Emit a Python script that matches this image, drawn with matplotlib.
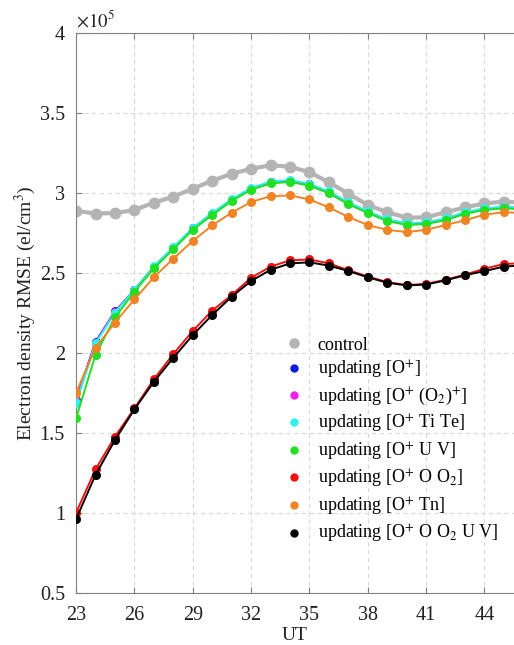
import matplotlib
matplotlib.use('Agg')
import matplotlib.pyplot as plt
import numpy as np

plt.rcParams['font.family'] = ['Liberation Serif', 'DejaVu Serif']
plt.rcParams['mathtext.fontset'] = 'stix'

# hours (UT), values in units of 1e5 el/cm^3
ut = list(range(23, 47))

control = [2.888, 2.872, 2.875, 2.894, 2.94, 2.977, 3.027, 3.077, 3.12, 3.152, 3.173, 3.165,
           3.13, 3.067, 2.996, 2.925, 2.88, 2.846, 2.848, 2.88, 2.91, 2.935, 2.946, 2.94]
upd_o = [1.706, 2.07, 2.26, 2.395, 2.54, 2.658, 2.78, 2.872, 2.958, 3.028, 3.068, 3.077,
         3.055, 3.006, 2.938, 2.882, 2.832, 2.808, 2.813, 2.838, 2.877, 2.901, 2.911, 2.905]
upd_o_o2 = [1.70, 2.065, 2.258, 2.393, 2.538, 2.656, 2.778, 2.871, 2.957, 3.027, 3.067, 3.076,
            3.054, 3.005, 2.937, 2.881, 2.831, 2.807, 2.812, 2.837, 2.876, 2.900, 2.910, 2.904]
upd_ti_te = [1.685, 2.06, 2.252, 2.395, 2.542, 2.66, 2.782, 2.875, 2.962, 3.032, 3.072, 3.081,
             3.058, 3.01, 2.942, 2.886, 2.836, 2.812, 2.817, 2.842, 2.881, 2.905, 2.915, 2.909]
upd_uv = [1.592, 1.988, 2.223, 2.383, 2.529, 2.648, 2.77, 2.862, 2.95, 3.02, 3.06, 3.069,
          3.046, 2.998, 2.93, 2.875, 2.825, 2.80, 2.806, 2.83, 2.87, 2.894, 2.904, 2.898]
upd_o_o2n = [1.002, 1.273, 1.477, 1.654, 1.836, 1.994, 2.138, 2.265, 2.362, 2.47, 2.54, 2.579,
             2.585, 2.56, 2.518, 2.478, 2.443, 2.425, 2.432, 2.458, 2.49, 2.527, 2.556, 2.562]
upd_tn = [1.752, 2.033, 2.19, 2.335, 2.473, 2.59, 2.70, 2.798, 2.877, 2.944, 2.98, 2.985,
          2.96, 2.91, 2.85, 2.80, 2.77, 2.756, 2.77, 2.80, 2.83, 2.865, 2.88, 2.875]
upd_all = [0.962, 1.238, 1.456, 1.648, 1.82, 1.97, 2.112, 2.238, 2.352, 2.45, 2.52, 2.56,
           2.567, 2.546, 2.513, 2.473, 2.44, 2.422, 2.428, 2.454, 2.486, 2.512, 2.54, 2.548]

labels = ['control', 'updating [O$^{+}$]', 'updating [O$^{+}$ (O$_2$)$^{+}$]',
          'updating [O$^{+}$ Ti Te]', 'updating [O$^{+}$ U V]', 'updating [O$^{+}$ O O$_2$]',
          'updating [O$^{+}$ Tn]', 'updating [O$^{+}$ O O$_2$ U V]']
colors = ['#b4b4b4', '#0a1ee0', '#f020f0', '#30f0f0', '#20e020', '#f01010', '#f08424', '#000000']
series = [control, upd_o, upd_o_o2, upd_ti_te, upd_uv, upd_o_o2n, upd_tn, upd_all]

fig = plt.figure(figsize=(5.14, 6.45), dpi=100)
ax = fig.add_axes([0.148, 0.0806, 0.852, 0.8682])

for i, (s, c, lab) in enumerate(zip(series, colors, labels)):
    if i == 0:
        ax.plot(ut, s, '-', color=c, lw=3, marker='o', ms=7.5, zorder=2)
    else:
        ax.plot(ut, s, '-', color=c, lw=1.4, marker='o', ms=5.5, zorder=3)
    ax.plot([], [], 'o', color=c, ms=5 if i else 6.5, label=lab)

ax.set_xlim(23, 45.52)
ax.set_ylim(0.5, 4)
ax.set_xticks([23, 26, 29, 32, 35, 38, 41, 44])
yt = [0.5, 1, 1.5, 2, 2.5, 3, 3.5, 4]
ax.set_yticks(yt)
ax.set_yticklabels(['%g' % v for v in yt])
ax.grid(True, ls=(0, (4, 3)), color='#d8d8d8', lw=0.8)
ax.set_axisbelow(True)
ax.tick_params(direction='in', labelsize=14.5, colors='#808080', labelcolor='#222222',
               top=True, length=4)
ax.tick_params(axis='x', pad=9)
ax.tick_params(axis='y', pad=8)
for sp in ['left', 'bottom', 'top']:
    ax.spines[sp].set_color('#808080')
ax.spines['right'].set_visible(False)

ax.set_xlabel('UT', fontsize=14, color='#222222', labelpad=2)
ax.set_ylabel('Electron density RMSE (el/cm$^3$)', fontsize=14, color='#222222', labelpad=1)
ax.text(0.0, 1.005, r'$\times10^{5}$', transform=ax.transAxes, fontsize=13.5, color='#222222',
        va='bottom', ha='left')

leg = ax.legend(loc='upper left', bbox_to_anchor=(0.44, 0.487), frameon=False, fontsize=13,
                handlelength=1.0, handletextpad=0.8, labelspacing=0.28)

fig.savefig('out.png', dpi=100)
